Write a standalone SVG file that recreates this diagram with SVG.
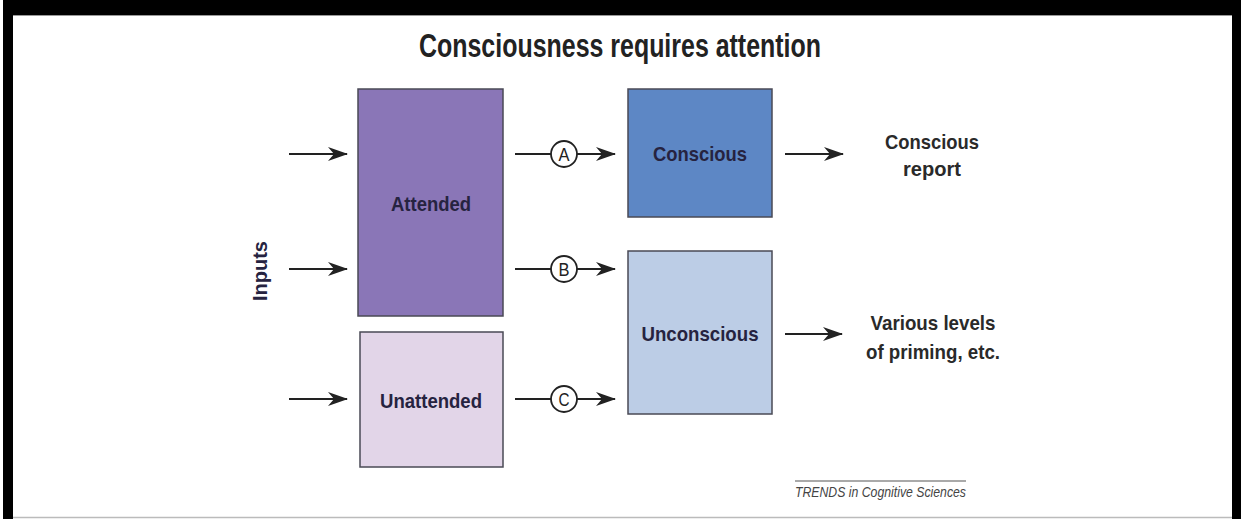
<svg xmlns="http://www.w3.org/2000/svg" width="1241" height="519" viewBox="0 0 1241 519">
<defs>
<style>
.box{stroke:#4a4a55;stroke-width:1.5}
.lbl{font-family:"Liberation Sans",Arial,sans-serif;font-weight:bold;font-size:21px;fill:#262340;text-anchor:middle}
.out{font-family:"Liberation Sans",Arial,sans-serif;font-weight:bold;font-size:21px;fill:#2a2a2a;text-anchor:middle}
.ln{stroke:#222;stroke-width:2.2;fill:none}
.circ{stroke:#222;stroke-width:1.8;fill:#fff}
.ct{font-family:"Liberation Sans",Arial,sans-serif;font-size:19px;fill:#222;text-anchor:middle}
</style>
<marker id="ah" viewBox="0 0 20 14" refX="19" refY="7" markerWidth="20" markerHeight="14" markerUnits="userSpaceOnUse" orient="auto">
<path d="M0,0 L20,7 L0,14 L6,7 Z" fill="#222"/>
</marker>
</defs>
<rect x="0" y="0" width="1241" height="519" fill="#fff"/>
<rect x="0" y="0" width="1241" height="15" fill="#000"/>
<rect x="3" y="0" width="10" height="519" fill="#000"/>
<rect x="1232" y="0" width="9" height="519" fill="#000"/>
<rect x="0" y="0" width="3" height="519" fill="#fff"/>
<line x1="13" y1="517.5" x2="1232" y2="517.5" stroke="#bbb" stroke-width="1.5"/>
<line x1="13" y1="15.5" x2="1232" y2="15.5" stroke="#999" stroke-width="1"/>

<text id="title" x="620" y="57" font-family="'Liberation Sans',Arial,sans-serif" font-weight="bold" font-size="34" fill="#222" text-anchor="middle" textLength="402" lengthAdjust="spacingAndGlyphs">Consciousness requires attention</text>

<g id="inputs-label">
<text class="lbl" transform="translate(267,271) rotate(-90)" font-size="17" fill="#333" textLength="60" lengthAdjust="spacingAndGlyphs">Inputs</text>
</g>

<g id="attended">
<rect class="box" x="358" y="89" width="145" height="227" fill="#8a76b7"/>
<text class="lbl" x="431" y="211" textLength="80" lengthAdjust="spacingAndGlyphs">Attended</text>
</g>
<g id="unattended">
<rect class="box" x="360" y="332" width="143" height="135" fill="#e2d5e8"/>
<text class="lbl" x="431" y="408" textLength="102" lengthAdjust="spacingAndGlyphs">Unattended</text>
</g>
<g id="conscious">
<rect class="box" x="628" y="89" width="144" height="128" fill="#5d87c5"/>
<text class="lbl" x="700" y="161" fill="#1e2b52" textLength="94" lengthAdjust="spacingAndGlyphs">Conscious</text>
</g>
<g id="unconscious">
<rect class="box" x="628" y="251" width="144" height="163" fill="#bccde6"/>
<text class="lbl" x="700" y="341" textLength="117" lengthAdjust="spacingAndGlyphs">Unconscious</text>
</g>
<g id="conscious-report">
<text class="out" x="932" y="149" textLength="94" lengthAdjust="spacingAndGlyphs">Conscious</text>
<text class="out" x="932" y="176" textLength="58" lengthAdjust="spacingAndGlyphs">report</text>
</g>
<g id="priming">
<text class="out" x="933" y="330" textLength="125" lengthAdjust="spacingAndGlyphs">Various levels</text>
<text class="out" x="933" y="359" textLength="134" lengthAdjust="spacingAndGlyphs">of priming, etc.</text>
</g>

<g id="connectors">
<line class="ln" x1="289" y1="154" x2="347" y2="154" marker-end="url(#ah)"/>
<line class="ln" x1="289" y1="269" x2="347" y2="269" marker-end="url(#ah)"/>
<line class="ln" x1="289" y1="399" x2="347" y2="399" marker-end="url(#ah)"/>

<line class="ln" x1="515" y1="154" x2="551" y2="154"/>
<line class="ln" x1="577" y1="154" x2="615" y2="154" marker-end="url(#ah)"/>
<line class="ln" x1="515" y1="269" x2="551" y2="269"/>
<line class="ln" x1="577" y1="269" x2="615" y2="269" marker-end="url(#ah)"/>
<line class="ln" x1="515" y1="399" x2="551" y2="399"/>
<line class="ln" x1="577" y1="399" x2="615" y2="399" marker-end="url(#ah)"/>

<line class="ln" x1="785" y1="154" x2="843" y2="154" marker-end="url(#ah)"/>
<line class="ln" x1="785" y1="334" x2="842" y2="334" marker-end="url(#ah)"/>
</g>

<g id="label-A">
<circle class="circ" cx="564" cy="154" r="13"/>
<text class="ct" x="564" y="161" textLength="11" lengthAdjust="spacingAndGlyphs">A</text>
</g>
<g id="label-B">
<circle class="circ" cx="564" cy="269" r="13"/>
<text class="ct" x="564" y="276" textLength="11" lengthAdjust="spacingAndGlyphs">B</text>
</g>
<g id="label-C">
<circle class="circ" cx="564" cy="399" r="13"/>
<text class="ct" x="564" y="406" textLength="11" lengthAdjust="spacingAndGlyphs">C</text>
</g>

<g id="credit">
<line x1="795" y1="481" x2="966" y2="481" stroke="#555" stroke-width="1.2"/>
<text x="795" y="497" font-family="'Liberation Sans',Arial,sans-serif" font-style="italic" font-size="14" fill="#444" textLength="171" lengthAdjust="spacingAndGlyphs">TRENDS in Cognitive Sciences</text>
</g>
</svg>
